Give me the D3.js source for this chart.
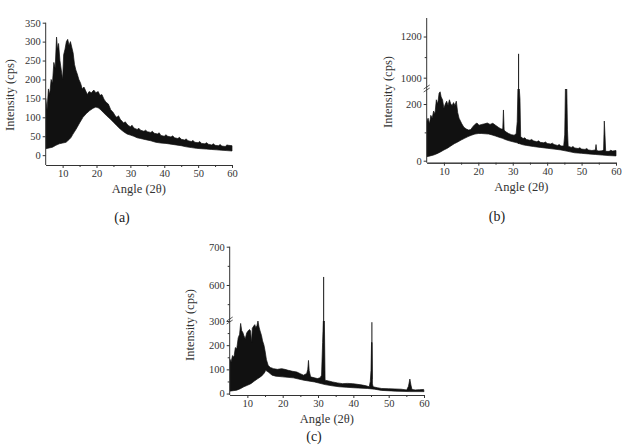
<!DOCTYPE html>
<html>
<head>
<meta charset="utf-8">
<script src="https://cdn.jsdelivr.net/npm/d3@7"></script>
</head>
<body style="margin:0; background:#fff">
<svg id="chart" width="626" height="445"></svg>
<script>
// x ticks shared by all three patterns
var xMajor = [10, 20, 30, 40, 50, 60];
var xMinor = [15, 25, 35, 45, 55];

// (a) envelope of the noisy trace, [angle, cps]
var upperA = [[5,150],[5.4,120],[5.8,175],[6.2,160],[6.6,200],[7,190],[7.4,245],[7.8,230],[8.2,312],[8.5,280],[8.8,295],[9.2,250],[9.6,225],[10,200],[10.3,265],[10.7,280],[11.1,300],[11.5,306],[11.9,290],[12.3,300],[12.7,285],[13.1,270],[13.5,240],[13.9,225],[14.3,215],[14.8,200],[15.3,190],[15.8,175],[16.3,180],[16.8,170],[17.3,160],[17.8,168],[18.5,165],[19.2,172],[19.8,165],[20.5,168],[21,158],[21.6,160],[22.2,148],[22.8,140],[23.5,135],[24.2,120],[25,112],[25.5,104],[26,100],[26.5,104],[27,95],[27.5,90],[28,85],[28.5,88],[29,82],[29.5,78],[30,75],[30.5,79],[31,72],[31.5,70],[32,68],[32.5,71],[33,66],[34,63],[34.5,66],[35,62],[36,60],[36.5,63],[37,58],[38,56],[38.5,59],[39,52],[40,50],[40.5,54],[41,50],[42,48],[42.5,51],[43,46],[44,44],[44.5,47],[45,42],[46,40],[46.5,43],[47,38],[48,36],[48.5,39],[49,34],[50,33],[50.5,36],[51,31],[52,30],[52.5,33],[53,29],[54,27],[54.5,30],[55,26],[56,25],[56.5,28],[57,24],[58,23],[58.5,27],[59,26],[60,25]];
var lowerA = [[5,17],[6,19],[7,21],[8,26],[9,30],[10,32],[11,34],[12,42],[12.5,47],[13,55],[14,69],[15,85],[16,100],[17,110],[18,118],[19,124],[19.8,127],[20.5,125],[21,122],[22,113],[23,104],[24,96],[25,87],[26,78],[27,69],[28,62],[29,56],[30,53],[31,50],[32,46],[33,44],[34.5,41],[36,38],[37.5,34],[39,32],[40.5,31],[42,29],[43.5,27],[45,25],[46.5,22],[48,20],[49.5,18],[51,17],[52.5,16],[54,15],[55.5,14],[57,13],[58.5,12],[60,11]];
var yTicksA = [0, 50, 100, 150, 200, 250, 300, 350];

// (b)
var upperB = [[5,138],[5.4,150],[5.8,130],[6.2,160],[6.6,150],[7,175],[7.4,165],[7.8,215],[8.2,200],[8.6,238],[8.9,243],[9.2,225],[9.6,215],[10,185],[10.4,200],[10.8,210],[11.2,195],[11.6,215],[12,200],[12.4,195],[12.8,205],[13.2,195],[13.6,210],[14,170],[14.4,150],[14.8,140],[15.2,130],[15.8,118],[16.5,112],[17.2,108],[17.8,110],[18.4,120],[19,128],[19.6,133],[20.2,125],[21,128],[21.8,130],[22.6,133],[23.4,128],[24.2,132],[25,125],[25.8,118],[26.6,112],[27.1,112],[27.3,179],[27.5,108],[28,102],[28.8,96],[29.6,92],[30.4,90],[31,95],[31.3,138],[31.5,253],[31.9,253],[32.1,218],[32.3,85],[33,78],[33.5,81],[34,75],[35,72],[35.5,75],[36,70],[37,67],[37.5,70],[38,65],[39,63],[39.5,66],[40,61],[41,59],[41.5,62],[42,57],[43,54],[43.5,57],[44,52],[44.8,52],[45.1,91],[45.3,253],[45.7,253],[45.9,109],[46.1,51],[47,47],[47.5,50],[48,45],[49,43],[49.5,46],[50,41],[51,40],[51.5,43],[52,38],[53,36],[54,38],[54.2,57],[54.4,36],[55,34],[56,35],[56.4,40],[56.6,140],[56.8,90],[57,33],[58,33],[58.5,37],[59,34],[60,36]];
var lowerB = [[5,14],[6,17],[7,20],[8,25],[9,31],[10,38],[11,44],[12,52],[13,60],[14,66],[15,73],[16,79],[17,85],[18,90],[19,94],[20,96],[21,96],[22,95],[23,94],[24,91],[25,87],[26,83],[27,79],[28,74],[29,70],[30,67],[31,64],[32,60],[33,56],[34,54],[36,50],[38,47],[40,44],[42,41],[44,38],[46,33],[48,28],[50,26],[52,24],[54,22],[56,20],[58,18],[60,17]];
var tipAngleB = [31.7];
var tipTopB = [1116];
var yTicksLoB = [0, 200], yMinorLoB = [100];
var yTicksHiB = [1000, 1200], yMinorHiB = [1100];

// (c)
var upperC = [[5,144],[5.4,130],[5.8,157],[6.2,150],[6.6,190],[7,185],[7.4,230],[7.8,245],[8.1,290],[8.4,260],[8.7,253],[9,240],[9.4,226],[9.8,250],[10.2,259],[10.6,265],[10.9,259],[11.2,211],[11.4,270],[11.8,279],[12.1,285],[12.4,272],[12.7,280],[13,300],[13.3,275],[13.6,259],[14,240],[14.3,218],[14.7,200],[15,177],[15.4,140],[15.9,116],[16.5,108],[17.4,103],[18.5,100],[19.7,103],[20.6,100],[21.6,96],[22.8,92],[24,89],[25,82],[25.9,76],[26.8,83],[27.1,100],[27.3,137],[27.5,95],[27.9,69],[29,65],[29.8,62],[30.6,65],[31,76],[31.3,211],[31.5,300],[31.8,300],[32,55],[33,52],[34.1,48],[35.5,44],[36.9,41],[38.3,42],[39.8,41],[41.2,38],[42.6,35],[43.6,32],[44.5,28],[44.8,50],[45,96],[45.15,211],[45.3,211],[45.4,40],[45.6,28],[46.8,24],[48,21],[50,20],[51.8,19],[53.5,18],[55.1,15],[55.6,30],[56,60],[56.3,35],[56.6,17],[57.5,15],[58.7,16],[59.9,17]];
var lowerC = [[5,10],[6,12],[7,14],[8,20],[9,28],[10,34],[11,41],[12,52],[13,62],[14,72],[14.8,85],[15.2,96],[16,88],[17,76],[18,72],[20,69],[23,65],[26,55],[29,48],[32,37],[34,32],[36,28],[38,26],[40,24],[44,21],[46,18],[48,13],[52,10],[56,8],[60,8]];
var tipAngleC = [31.6, 45.25];
var tipTopC = [621, 295];
var yTicksLoC = [0, 100, 200, 300], yMinorLoC = [50, 150, 250];
var yTicksHiC = [600, 700], yMinorHiC = [550, 650];

var svg = d3.select("#chart");
var serif = "'Liberation Serif'";

function drawPanel(p) {
	var g = svg.append("g");
	var x = d3.scaleLinear().domain([5, 60]).range([p.left, p.right]);
	var yLo = d3.scaleLinear().domain(p.loDomain).range([p.bottom, p.loTop]);
	var yHi = p.hiDomain ? d3.scaleLinear().domain(p.hiDomain).range([p.loTop, p.top]) : null;

	var clipId = "clip" + p.name;
	svg.append("clipPath").attr("id", clipId)
		.append("rect")
		.attr("x", p.left).attr("y", p.loTop)
		.attr("width", p.right - p.left + 2).attr("height", p.bottom - p.loTop);

	var pts = p.upper.concat(p.lower.slice().reverse());
	var line = d3.line()
		.x(function(d) { return x(d[0]); })
		.y(function(d) { return yLo(d[1]); });

	g.append("path")
		.attr("clip-path", "url(#" + clipId + ")")
		.attr("d", line(pts) + "Z")
		.attr("fill", "#111")
		.attr("stroke", "#111")
		.attr("stroke-width", 0.7)
		.attr("stroke-linejoin", "miter");

	// thin peak tips
	(p.tipAngle || []).forEach(function(a, i) {
		var top = p.tipTop[i];
		var loMax = p.loDomain[1];
		g.append("line")
			.attr("x1", x(a)).attr("x2", x(a))
			.attr("y1", yLo(60)).attr("y2", yLo(Math.min(top, loMax)))
			.attr("stroke", "#111").attr("stroke-width", 1);
		if (yHi && top > p.hiDomain[0]) {
			g.append("line")
				.attr("x1", x(a)).attr("x2", x(a))
				.attr("y1", yHi(p.hiDomain[0])).attr("y2", yHi(top))
				.attr("stroke", "#111").attr("stroke-width", 1);
		}
	});

	var fmt = d3.format("d");

	// x axis
	g.append("g").attr("transform", "translate(0," + p.bottom + ")")
		.call(d3.axisBottom(x).tickValues(xMajor).tickSize(3).tickSizeOuter(0).tickPadding(2).tickFormat(fmt));
	g.append("g").attr("transform", "translate(0," + p.bottom + ")")
		.call(d3.axisBottom(x).tickValues(xMinor).tickSize(2).tickSizeOuter(0).tickFormat(""));

	// y axis (lower part)
	var ya = g.append("g").attr("transform", "translate(" + p.left + ",0)")
		.call(d3.axisLeft(yLo).tickValues(p.yTicks).tickSize(3).tickSizeOuter(0).tickPadding(2).tickFormat(fmt));
	ya.select(".domain").attr("d", "M0," + p.bottom + "V" + (yHi ? p.loTop : p.top));
	if (p.yMinor) {
		g.append("g").attr("transform", "translate(" + p.left + ",0)")
			.call(d3.axisLeft(yLo).tickValues(p.yMinor).tickSize(2).tickSizeOuter(0).tickFormat(""))
			.select(".domain").remove();
	}
	if (yHi) {
		var yb = g.append("g").attr("transform", "translate(" + p.left + ",0)")
			.call(d3.axisLeft(yHi).tickValues(p.yTicksHi).tickSize(3).tickSizeOuter(0).tickPadding(2).tickFormat(fmt));
		yb.select(".domain").attr("d", "M0," + p.loTop + "V" + p.top);
		g.append("g").attr("transform", "translate(" + p.left + ",0)")
			.call(d3.axisLeft(yHi).tickValues(p.yMinorHi).tickSize(2).tickSizeOuter(0).tickFormat(""))
			.select(".domain").remove();
		// break marks
		[-2, 1].forEach(function(o) {
			g.append("line")
				.attr("x1", p.left - 3).attr("y1", p.loTop + o + 2)
				.attr("x2", p.left + 3).attr("y2", p.loTop + o - 2)
				.attr("stroke", "#333").attr("stroke-width", 0.8);
		});
	}
	g.selectAll(".domain, .tick line").attr("stroke", "#333");
	g.selectAll(".tick text")
		.style("font-family", serif).style("font-size", "10.5px").style("fill", "#333");

	g.append("text")
		.attr("x", (p.left + p.right) / 2).attr("y", p.bottom + 28)
		.attr("text-anchor", "middle")
		.style("font-family", serif).style("font-size", "12.5px").style("fill", "#333")
		.text("Angle (2\u03b8)");
	g.append("text")
		.attr("transform", "translate(" + (p.left - p.titleDx) + "," + p.titleY + ") rotate(-90)")
		.attr("text-anchor", "middle")
		.style("font-family", serif).style("font-size", "12.5px").style("fill", "#333")
		.text("Intensity (cps)");
	g.append("text")
		.attr("x", p.labelX).attr("y", p.labelY)
		.attr("text-anchor", "middle")
		.style("font-family", serif).style("font-size", "14px").style("fill", "#222")
		.text(p.label);
}

drawPanel({
	name: "a", left: 45.7, right: 232, bottom: 165, top: 22.7, loTop: 22.7,
	loDomain: [-26, 350], upper: upperA, lower: lowerA,
	yTicks: yTicksA, titleY: 95, titleDx: 32, label: "(a)", labelX: 122, labelY: 222
});
drawPanel({
	name: "b", left: 426.7, right: 616, bottom: 162.7, top: 18, loTop: 89,
	loDomain: [-7, 253], hiDomain: [945, 1290], upper: upperB, lower: lowerB,
	tipAngle: tipAngleB, tipTop: tipTopB,
	yTicks: yTicksLoB, yMinor: yMinorLoB, yTicksHi: yTicksHiB, yMinorHi: yMinorHiB,
	titleY: 92, titleDx: 35, label: "(b)", labelX: 497, labelY: 221
});
drawPanel({
	name: "c", left: 229.7, right: 424, bottom: 395, top: 246.7, loTop: 321,
	loDomain: [-6, 300], hiDomain: [506, 700], upper: upperC, lower: lowerC,
	tipAngle: tipAngleC, tipTop: tipTopC,
	yTicks: yTicksLoC, yMinor: yMinorLoC, yTicksHi: yTicksHiC, yMinorHi: yMinorHiC,
	titleY: 325, titleDx: 36, label: "(c)", labelX: 314, labelY: 441
});
</script>
</body>
</html>
